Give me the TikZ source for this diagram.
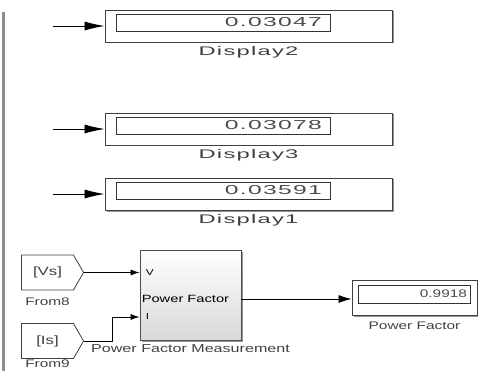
\documentclass[tikz,border=0pt]{standalone}
\usepackage{fontspec}
\setmainfont{Liberation Sans}[FakeStretch=1.4]
\newfontfamily\wideface{Liberation Sans}[FakeStretch=1.9,LetterSpace=10]
\usetikzlibrary{arrows.meta,positioning,shadows,shapes.symbols}

\begin{document}
\begin{tikzpicture}[
  x=1pt, y=-1pt,
  display/.style={draw=black!75, line width=0.9pt, fill=white, minimum width=287pt,
                  minimum height=32pt,
                  drop shadow={shadow xshift=1.5pt, shadow yshift=-1.5pt, opacity=0.7, fill=black!60}},
  readout/.style={draw=black!80, line width=0.8pt, fill=white, minimum height=17pt,
                  inner ysep=0pt, inner xsep=8pt, text width=198pt, align=right,
                  font=\wideface\fontsize{13}{13}\selectfont, text=black!70},
  dlabel/.style={font=\wideface\fontsize{12.5}{12.5}\selectfont, text=black!75},
  smalldisp/.style={display, minimum width=125pt, minimum height=35pt},
  smallout/.style={readout, minimum height=18pt, inner xsep=3pt, text width=106pt,
                   font=\fontsize{11}{11}\selectfont},
  blabel/.style={font=\fontsize{11}{11}\selectfont, text=black!75},
  tag/.style={signal, signal to=east, signal pointer angle=120, draw=black!75,
              line width=0.8pt, fill=white, minimum width=62pt, minimum height=35pt,
              font=\fontsize{12}{12}\selectfont, text=black!75},
  pfm/.style={draw=black!70, line width=0.9pt, top color=white, bottom color=black!15,
              minimum width=101pt, minimum height=90pt,
              drop shadow={shadow xshift=1.5pt, shadow yshift=-1.5pt, opacity=0.7, fill=black!60}},
  port/.style={font=\fontsize{8.5}{8.5}\selectfont, inner sep=0pt, anchor=west},
  bigarrow/.style={-{Latex[length=20pt, width=9pt]}, line width=0.8pt},
  inarrow/.style={-{Latex[length=9pt, width=6pt]}, line width=0.8pt},
  outarrow/.style={-{Latex[length=13pt, width=8pt]}, line width=0.8pt}
]
  \useasboundingbox (0,0) rectangle (478,371);
  \draw[black!45, line width=3pt] (3,12) -- (3,371);

  \node[display] (disp2) at (248.5,26) {};
  \node[readout, below right=4pt and 11pt of disp2.north west] (val2) {0.03047};
  \node[dlabel, below=0pt of disp2] (lab2) {Display2};
  \coordinate (in2) at ([xshift=-52pt]disp2.west);
  \draw[bigarrow] (in2) -- (disp2.west);

  \node[display] (disp3) at (248.5,129) {};
  \node[readout, below right=4pt and 11pt of disp3.north west] (val3) {0.03078};
  \node[dlabel, below=0pt of disp3] (lab3) {Display3};
  \coordinate (in3) at ([xshift=-52pt]disp3.west);
  \draw[bigarrow] (in3) -- (disp3.west);

  \node[display] (disp1) at (248.5,194) {};
  \node[readout, below right=4pt and 11pt of disp1.north west] (val1) {0.03591};
  \node[dlabel, below=0pt of disp1] (lab1) {Display1};
  \coordinate (in1) at ([xshift=-52pt]disp1.west);
  \draw[bigarrow] (in1) -- (disp1.west);

  \node[tag] (from8) at (47.5,272.5) {[Vs]\hspace{6pt}};
  \node[blabel, below=4pt of from8] (lab8) {From8};
  \node[tag] (from9) at (47.5,341) {[Is]\hspace{6pt}};
  \node[blabel, inner sep=1pt, below=0pt of from9] (lab9) {From9};

  \node[pfm] (pfm) at (190.5,295) {};
  \node[port] (vport) at ([xshift=6pt, yshift=22.5pt]pfm.west) {V};
  \node[port, font=\fontsize{10.5}{10.5}\selectfont] (pfport) at ([xshift=2pt, yshift=-4pt]pfm.west) {Power Factor};
  \node[port] (iport) at ([xshift=6pt, yshift=-22pt]pfm.west) {I};
  \node[blabel, font=\fontsize{11.5}{11.5}\selectfont, below=1pt of pfm] (labpfm) {Power Factor Measurement};

  \node[smalldisp] (pfdisp) at (414.5,297.5) {};
  \node[smallout, below right=5pt and 6pt of pfdisp.north west] (pfval) {0.9918};
  \node[blabel, below=3pt of pfdisp] (labpf) {Power Factor};

  \draw[inarrow] (from8.east) -- (pfm.west |- vport);
  \draw[inarrow] (from9.east) -- ++(28,0) |- (pfm.west |- iport);
  \draw[outarrow] (pfm.east |- pfport) -- (pfdisp.west |- pfport);
\end{tikzpicture}
\end{document}
